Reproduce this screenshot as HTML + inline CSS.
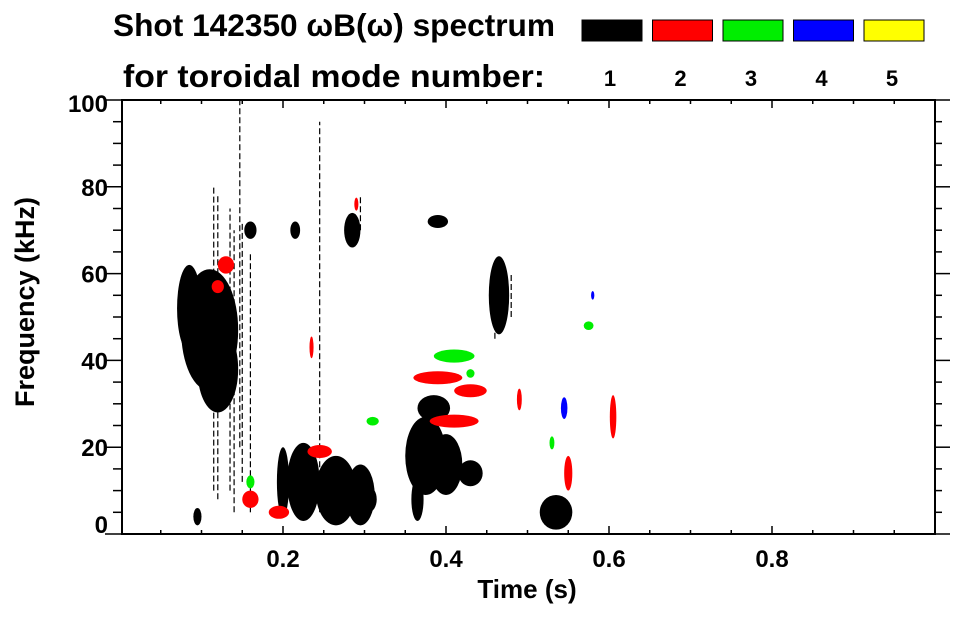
<!DOCTYPE html>
<html><head><meta charset="utf-8"><style>
body{margin:0;background:#fff;font-family:"Liberation Sans",sans-serif;}
svg text{font-family:"Liberation Sans",sans-serif;font-weight:bold;fill:#000;}
</style></head><body>
<svg id="chart" width="963" height="615" viewBox="0 0 963 615" xmlns="http://www.w3.org/2000/svg">
<text x="113" y="36" font-size="31.5" textLength="442" lengthAdjust="spacingAndGlyphs">Shot 142350 ωB(ω) spectrum</text>
<text x="123" y="87" font-size="31.5" textLength="422" lengthAdjust="spacingAndGlyphs">for toroidal mode number:</text>
<g id="legend"></g>
<g id="marks"></g>
<g id="axes"></g>
<text x="527" y="598" font-size="26" text-anchor="middle">Time (s)</text>
<text transform="translate(34,302) rotate(-90)" font-size="27" text-anchor="middle">Frequency (kHz)</text>
</svg>
<script>
const modeLabels=["1","2","3","4","5"];
const modeColors=["#000000","#ff0000","#00ee00","#0000ff","#ffff00"];
const xTicks=[0.2,0.4,0.6,0.8];
const yTicks=[0,20,40,60,80,100];
// blobs: time, freq, dt, df, mode
const blobT=[0.11,0.085,0.12,0.095,0.16,0.215,0.285,0.39,0.225,0.265,0.295,0.305,0.375,0.40,0.43,0.365,0.385,0.465,0.535,0.20,
 0.39,0.43,0.41,0.16,0.195,0.245,0.13,0.12,0.55,0.605,0.49,0.235,0.29,
 0.41,0.575,0.53,0.16,0.31,0.43,0.545,0.58];
const blobF=[47,52,38,4,70,70,70,72,12,10,9,8,18,16,14,8,29,55,5,12,
 36,33,26,8,5,19,62,57,14,27,31,43,76,
 41,48,21,12,26,37,29,55];
const blobDT=[0.07,0.03,0.05,0.01,0.015,0.012,0.02,0.025,0.04,0.05,0.035,0.02,0.05,0.04,0.03,0.015,0.04,0.025,0.04,0.015,
 0.06,0.04,0.06,0.02,0.025,0.03,0.02,0.015,0.01,0.008,0.006,0.005,0.005,
 0.05,0.012,0.006,0.01,0.015,0.01,0.008,0.004];
const blobDF=[28,20,20,4,4,4,8,3,18,16,14,6,18,14,6,10,6,18,8,16,
 3,3,3,4,3,3,4,3,8,10,5,5,3,
 3,2,3,3,2,2,5,2];
const blobMode=[1,1,1,1,1,1,1,1,1,1,1,1,1,1,1,1,1,1,1,1,
 2,2,2,2,2,2,2,2,2,2,2,2,2,
 3,3,3,3,3,3,4,4];
// streaks: time, f0, f1
const streakT=[0.115,0.12,0.135,0.14,0.15,0.147,0.16,0.245,0.46,0.47,0.48,0.295];
const streakF0=[10,8,10,5,12,20,5,5,45,48,50,70];
const streakF1=[80,78,75,70,72,100,65,95,62,62,60,78];
const streakMode=[1,1,1,1,1,1,1,1,1,1,1,1];

const L=120,R=935,T=100,B=534;
const xs=t=>L+t*(R-L);
const ys=f=>B-f/100*(B-T);
const NS="http://www.w3.org/2000/svg";
function mk(tag,attrs,parent){const e=document.createElementNS(NS,tag);for(const k in attrs)e.setAttribute(k,attrs[k]);parent.appendChild(e);return e;}
const leg=document.getElementById('legend');
modeLabels.forEach((m,i)=>{
 const x=582+i*70.5;
 const r=mk('rect',{x:x,y:20,width:60,height:21,fill:modeColors[i],stroke:'#000','stroke-width':1},leg);
 
 
 const t=mk('text',{x:x+28,y:86,'font-size':22,'text-anchor':'middle'},leg);t.textContent=m;
 
 
});
const marks=document.getElementById('marks');
streakT.forEach((t,i)=>{
 const l=mk('line',{x1:xs(t),x2:xs(t),y1:ys(streakF0[i]),y2:ys(streakF1[i]),stroke:modeColors[streakMode[i]-1],'stroke-width':1.2,'stroke-dasharray':'6 3'},marks);
 
 
});
blobT.forEach((t,i)=>{
 const cx=xs(t),cy=ys(blobF[i]);
 const rx=blobDT[i]/2*(R-L),ry=blobDF[i]/2/100*(B-T);
 const e=mk('ellipse',{cx:cx,cy:cy,rx:rx,ry:ry,fill:modeColors[blobMode[i]-1]},marks);
 
 
});
const ax=document.getElementById('axes');
mk('rect',{x:L+2,y:T,width:R-L-2,height:B-T,fill:'none',stroke:'#000','stroke-width':2},ax);
for(let t=0.05;t<1;t+=0.05){
 const x=xs(t);const maj=Math.abs(t*5-Math.round(t*5))<1e-6;
 const len=maj?8:4;
 mk('line',{x1:x,x2:x,y1:B,y2:B-len,stroke:'#000','stroke-width':1.5},ax);
 mk('line',{x1:x,x2:x,y1:T,y2:T+len,stroke:'#000','stroke-width':1.5},ax);
}
for(let f=0;f<=100;f+=5){
 const y=ys(f);const maj=f%20===0;
 mk('line',{x1:maj?105:113,x2:L+2,y1:y,y2:y,stroke:'#000','stroke-width':1.5},ax);
 mk('line',{x1:R,x2:maj?950:942,y1:y,y2:y,stroke:'#000','stroke-width':1.5},ax);
}
xTicks.forEach(t=>{
 const e=mk('text',{x:xs(t),y:567,'font-size':24,'text-anchor':'middle'},ax);e.textContent=t.toFixed(1);
 
 
});
yTicks.forEach(f=>{
 const e=mk('text',{x:108,y:ys(f)+(f===0?-1:f===100?12:9),'font-size':24,'text-anchor':'end'},ax);e.textContent=f;
 
 
});
</script>
</body></html>
